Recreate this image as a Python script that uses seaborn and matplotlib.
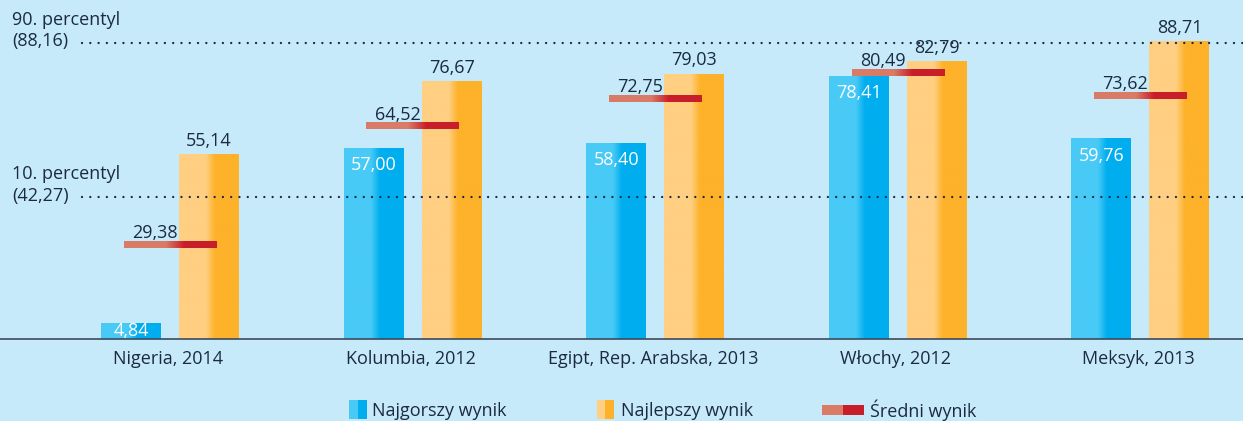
import numpy as np
import pandas as pd
import matplotlib
matplotlib.use("Agg")
import matplotlib.pyplot as plt
import seaborn as sns
from matplotlib.patches import Patch
from matplotlib.legend_handler import HandlerTuple
from matplotlib.colors import to_rgba

# ---------------- data ----------------
countries = ["Nigeria, 2014", "Kolumbia, 2012", "Egipt, Rep. Arabska, 2013",
             "Włochy, 2012", "Meksyk, 2013"]
worst = [4.84, 57.00, 58.40, 78.41, 59.76]
best = [55.14, 76.67, 79.03, 82.79, 88.71]
mean = [29.38, 64.52, 72.75, 80.49, 73.62]
p90 = 88.16
p10 = 42.27
series_names = ["Najgorszy wynik", "Najlepszy wynik", "Średni wynik"]
p90_label = ["90. percentyl", "(88,16)"]
p10_label = ["10. percentyl", "(42,27)"]

def fmt(v):
    return f"{v:.2f}".replace(".", ",")

# ---------------- style ----------------
BG = "#C7EAFA"
TXT = "#1B2A41"
BLUE_L, BLUE_D = "#48CAF6", "#00AEEF"
ORG_L, ORG_D = "#FFCF82", "#FDB22A"
RED_L, RED_D = "#D97B66", "#C81E2A"

sns.set_theme(style="white")
plt.rcParams["font.family"] = ["Open Sans", "DejaVu Sans"]
plt.rcParams["text.color"] = TXT
FS = 13

fig = plt.figure(figsize=(12.43, 4.21), dpi=100, facecolor=BG)
ax = fig.add_axes([0.0, 0.194, 1.0, 0.806])
ax.set_facecolor(BG)

df = pd.DataFrame({
    "country": countries * 2,
    "series": [series_names[0]] * len(countries) + [series_names[1]] * len(countries),
    "value": worst + best,
})
sns.barplot(data=df, x="country", y="value", hue="series",
            palette=[BLUE_D, ORG_D], width=0.644, gap=0.233,
            linewidth=0, saturation=1, legend=False, ax=ax, zorder=2)

xs = np.arange(len(countries))
mean_h = 2.1
mean_bars = ax.bar(xs, [mean_h] * len(mean), bottom=np.array(mean) - mean_h,
                   width=0.381, color=RED_D, linewidth=0, zorder=4)

XLIM = (-0.701, 4.423)
YLIM = (0, 100.9)

def gradient(light, dark, start=0.45, end=0.6, n=200):
    t = np.linspace(0, 1, n)
    w = np.clip((t - start) / (end - start), 0, 1)
    a = np.array(to_rgba(light)); b = np.array(to_rgba(dark))
    return (a[None, :] * (1 - w[:, None]) + b[None, :] * w[:, None])[None, :, :]

def paint(patch, light, dark, z, start=0.45, end=0.6):
    x0 = patch.get_x(); w = patch.get_width()
    y0 = patch.get_y(); h = patch.get_height()
    im = ax.imshow(gradient(light, dark, start, end), extent=[x0, x0 + w, y0, y0 + h],
                   aspect="auto", interpolation="bilinear", zorder=z, origin="lower")
    im.set_clip_path(patch)

for p in ax.containers[0].patches:
    paint(p, BLUE_L, BLUE_D, 2.5)
for p in ax.containers[1].patches:
    paint(p, ORG_L, ORG_D, 2.5)
for p in mean_bars.patches:
    paint(p, RED_L, RED_D, 4.5, 0.45, 0.65)

# percentile dotted lines
for val, lab in [(p90, p90_label), (p10, p10_label)]:
    ax.axhline(val, xmin=82 / 1243, xmax=1, color=TXT, lw=1.7,
               linestyle=(0, (0.01, 3.5)), dash_capstyle="round", zorder=5)
    tr = ax.get_yaxis_transform()
    ax.text(12 / 1243, val + 0.4, lab[1], transform=tr, ha="left", va="center",
            fontsize=FS, color=TXT, zorder=6)
    ax.text(12 / 1243, val + 6.9, lab[0], transform=tr, ha="left", va="center",
            fontsize=FS, color=TXT, zorder=6)

# value labels
for p, v in zip(ax.containers[0].patches, worst):
    cx = p.get_x() + p.get_width() / 2
    if v < 10:
        ax.annotate(fmt(v), (cx, v / 2), ha="center", va="center",
                    fontsize=FS, color="white", zorder=6)
    else:
        ax.annotate(fmt(v), (cx, v), xytext=(0, -16), textcoords="offset points",
                    ha="center", va="baseline", fontsize=FS, color="white", zorder=6)
for p, v in zip(ax.containers[1].patches, best):
    cx = p.get_x() + p.get_width() / 2
    ax.annotate(fmt(v), (cx, v), xytext=(0, 6), textcoords="offset points",
                ha="center", va="baseline", fontsize=FS, color=TXT, zorder=6)
for x, v in zip(xs, mean):
    ax.annotate(fmt(v), (x - 0.062, v), xytext=(0, 2), textcoords="offset points",
                ha="center", va="baseline", fontsize=FS, color=TXT, zorder=6)

# axes cosmetics
ax.set_xlim(*XLIM)
ax.set_ylim(*YLIM)
ax.set_xticks(xs - 0.008)
ax.set_xticklabels(countries, fontsize=FS, color=TXT)
ax.tick_params(axis="x", length=0, pad=8)
ax.set_yticks([])
ax.set_xlabel(""); ax.set_ylabel("")
for s in ["top", "left", "right"]:
    ax.spines[s].set_visible(False)
ax.spines["bottom"].set_color("#3C4A5C")
ax.spines["bottom"].set_linewidth(1.2)

# legend: three separate entries
def add_leg(handle, label, x_px, hl, hh, pad):
    leg = fig.legend([handle], [label], loc="center left",
                     bbox_to_anchor=(x_px / 1243, 1 - 410 / 421),
                     frameon=False, fontsize=FS, handlelength=hl, handleheight=hh,
                     handletextpad=pad, borderpad=0, borderaxespad=0,
                     handler_map={tuple: HandlerTuple(ndivide=None, pad=0)},
                     labelcolor=TXT)
    return leg

add_leg((Patch(color=BLUE_L, lw=0), Patch(color=BLUE_D, lw=0)), series_names[0], 349, 1.0, 1.25, 0.28)
add_leg((Patch(color=ORG_L, lw=0), Patch(color=ORG_D, lw=0)), series_names[1], 597, 0.94, 1.25, 0.39)
add_leg((Patch(color=RED_L, lw=0), Patch(color=RED_D, lw=0)), series_names[2], 822, 2.33, 0.45, 0.33)

fig.savefig("out.png", dpi=100, facecolor=BG)
